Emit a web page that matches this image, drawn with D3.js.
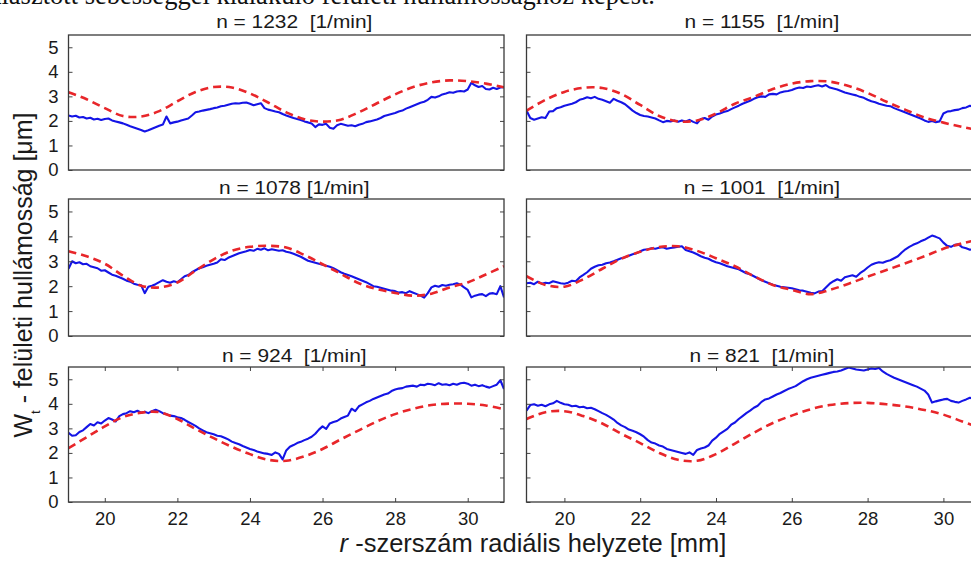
<!DOCTYPE html>
<html>
<head>
<meta charset="utf-8">
<script src="https://cdn.jsdelivr.net/npm/d3@7"></script>
<style>
  body { margin: 0; background: #fff; overflow: hidden; }
  svg { display: block; }
  text { font-family: "Liberation Sans", Arial, sans-serif; fill: #1a1a1a; white-space: pre; }
</style>
</head>
<body>
<svg id="chart" width="971" height="563"></svg>
<script>
// radial position grid of the measured (blue) traces, 19..31 mm every 0.1 mm
var rBlue = d3.range(0, 121).map(function(i) { return 19 + i / 10; });
// grid of the model (red dashed) curves, every 0.5 mm
var rRed = d3.range(0, 25).map(function(i) { return 19 + i / 2; });

var titles = ['n = 1232  [1/min]', 'n = 1155  [1/min]', 'n = 1078 [1/min]',
              'n = 1001  [1/min]', 'n = 924  [1/min]', 'n = 821  [1/min]'];

var yTicks = [0, 1, 2, 3, 4, 5];
var xTicks = [20, 22, 24, 26, 28, 30];

// measured surface waviness Wt [um]
var blue1232 = [2.22,2.18,2.21,2.14,2.16,2.10,2.13,2.06,2.09,2.04,2.08,2.10,2.02,1.98,1.94,1.90,1.84,1.78,1.73,1.68,
  1.63,1.57,1.62,1.68,1.74,1.80,1.85,2.18,1.90,1.94,1.97,2.02,2.06,2.10,2.22,2.35,2.38,2.42,2.45,2.48,
  2.52,2.55,2.60,2.62,2.66,2.70,2.72,2.71,2.74,2.75,2.70,2.64,2.68,2.72,2.52,2.46,2.42,2.38,2.35,2.28,
  2.22,2.17,2.12,2.08,2.04,1.98,1.94,1.89,1.75,1.86,1.84,1.88,1.72,1.68,1.82,1.88,1.84,1.80,1.82,1.78,
  1.84,1.88,1.95,1.98,2.02,2.06,2.12,2.20,2.24,2.28,2.32,2.38,2.42,2.50,2.56,2.62,2.68,2.74,2.78,2.86,
  2.98,2.95,3.00,3.08,3.12,3.17,3.15,3.20,3.22,3.20,3.28,3.55,3.45,3.38,3.42,3.30,3.28,3.35,3.30,3.36,3.37];
var blue1155 = [2.42,2.12,2.05,2.10,2.15,2.12,2.38,2.40,2.52,2.56,2.62,2.66,2.70,2.76,2.86,2.90,2.96,2.92,2.98,2.90,
  2.86,2.80,2.74,2.90,2.82,2.76,2.68,2.55,2.42,2.32,2.24,2.20,2.18,2.14,2.10,2.02,1.95,2.00,1.98,2.02,
  1.97,2.02,1.98,2.04,1.96,1.90,2.08,2.12,2.05,2.18,2.26,2.30,2.36,2.40,2.48,2.55,2.62,2.70,2.76,2.82,
  2.90,2.96,3.00,2.98,3.08,3.10,3.08,3.16,3.20,3.22,3.26,3.32,3.36,3.34,3.40,3.38,3.42,3.45,3.40,3.46,
  3.36,3.32,3.28,3.22,3.16,3.12,3.08,3.04,2.98,2.94,2.86,2.80,2.76,2.70,2.66,2.62,2.60,2.52,2.46,2.40,
  2.34,2.28,2.22,2.16,2.10,2.02,1.96,2.00,1.95,1.98,2.30,2.38,2.40,2.44,2.46,2.52,2.55,2.62,2.56,2.52,2.50];
var blue1078 = [2.70,3.00,2.92,2.96,2.88,2.90,2.80,2.76,2.72,2.62,2.64,2.55,2.46,2.42,2.36,2.30,2.22,2.18,2.10,2.06,
  2.04,1.72,1.98,2.02,2.08,2.16,2.24,2.18,2.14,2.20,2.16,2.28,2.40,2.45,2.56,2.64,2.72,2.76,2.82,2.86,
  2.90,2.95,3.08,3.05,3.14,3.20,3.26,3.32,3.36,3.40,3.45,3.42,3.50,3.46,3.52,3.44,3.48,3.45,3.42,3.44,
  3.38,3.35,3.30,3.24,3.18,3.10,3.02,2.98,2.94,2.90,2.86,2.82,2.78,2.72,2.64,2.56,2.50,2.45,2.40,2.34,
  2.28,2.22,2.16,2.08,2.00,1.98,1.94,1.90,1.86,1.82,1.80,1.74,1.76,1.72,1.80,1.74,1.68,1.62,1.54,1.72,
  1.95,2.02,1.98,2.05,2.02,2.06,2.08,2.12,2.06,1.95,1.85,1.55,1.62,1.66,1.68,1.60,1.70,1.72,1.68,2.00,1.55];
var blue1001 = [2.12,2.14,2.08,2.18,2.10,2.14,2.12,2.20,2.16,2.12,2.10,2.14,2.22,2.20,2.35,2.45,2.56,2.70,2.78,2.84,
  2.86,2.92,2.95,3.00,3.06,3.12,3.16,3.22,3.28,3.32,3.40,3.46,3.48,3.52,3.50,3.54,3.56,3.50,3.53,3.55,
  3.58,3.60,3.45,3.40,3.35,3.28,3.20,3.14,3.10,3.02,2.96,2.92,2.86,2.80,2.76,2.72,2.68,2.60,2.52,2.48,
  2.40,2.32,2.24,2.18,2.12,2.06,2.02,1.98,1.96,1.94,1.92,1.88,1.84,1.82,1.78,1.74,1.71,1.78,1.80,1.95,
  2.10,2.20,2.28,2.22,2.36,2.40,2.44,2.38,2.52,2.62,2.75,2.86,2.92,2.96,2.94,3.00,3.04,3.12,3.20,3.35,
  3.48,3.58,3.66,3.72,3.80,3.86,3.95,4.03,3.98,3.92,3.75,3.62,3.58,3.66,3.68,3.56,3.52,3.46,3.50,3.48,3.45];
var blue924 = [2.82,2.70,2.72,2.85,2.92,3.05,3.18,3.12,3.25,3.20,3.32,3.42,3.36,3.28,3.50,3.58,3.62,3.70,3.66,3.72,
  3.64,3.68,3.62,3.70,3.76,3.70,3.62,3.58,3.52,3.50,3.45,3.42,3.35,3.26,3.18,3.10,3.00,2.92,2.84,2.80,
  2.76,2.70,2.68,2.62,2.55,2.46,2.40,2.35,2.28,2.22,2.16,2.12,2.06,2.02,1.98,1.96,1.92,2.02,1.96,1.74,
  2.10,2.25,2.32,2.40,2.45,2.52,2.58,2.66,2.78,2.95,3.08,2.98,3.20,3.26,3.30,3.40,3.46,3.52,3.80,3.70,
  3.90,3.98,4.06,4.12,4.20,4.26,4.32,4.38,4.42,4.52,4.58,4.62,4.64,4.70,4.72,4.74,4.70,4.78,4.76,4.82,
  4.80,4.76,4.84,4.78,4.80,4.76,4.82,4.78,4.84,4.86,4.82,4.74,4.78,4.72,4.76,4.70,4.66,4.72,4.78,4.96,4.60];
var blue821 = [3.72,3.95,3.98,3.92,3.96,3.90,3.98,4.02,4.12,4.04,3.98,3.96,3.90,3.92,3.86,3.88,3.82,3.84,3.78,3.70,
  3.62,3.55,3.46,3.36,3.22,3.12,3.05,2.95,2.90,2.84,2.76,2.66,2.52,2.42,2.38,2.30,2.26,2.16,2.12,2.08,
  2.04,2.00,1.96,2.02,1.92,2.12,2.18,2.22,2.30,2.50,2.62,2.78,2.88,2.98,3.15,3.24,3.38,3.50,3.62,3.72,
  3.84,3.92,4.08,4.18,4.22,4.30,4.38,4.44,4.52,4.60,4.66,4.72,4.82,4.92,5.00,5.06,5.10,5.14,5.18,5.22,
  5.26,5.30,5.32,5.36,5.42,5.48,5.44,5.40,5.38,5.36,5.40,5.44,5.42,5.46,5.32,5.22,5.14,5.06,5.00,4.94,
  4.88,4.82,4.76,4.70,4.62,4.54,4.38,4.05,4.10,4.14,4.18,4.20,4.12,4.08,4.05,4.12,4.18,4.25,4.20,4.18,4.15];

// model curves Wt [um]
var red1232 = [3.17,2.88,2.52,2.20,2.18,2.40,2.80,3.18,3.38,3.36,3.12,2.75,2.35,2.07,1.97,2.05,2.35,2.72,3.08,3.38,3.57,3.65,3.62,3.52,3.37];
var red1155 = [2.42,2.86,3.18,3.35,3.34,3.10,2.65,2.20,1.98,2.02,2.30,2.70,2.98,3.30,3.52,3.62,3.60,3.42,3.14,2.78,2.45,2.14,1.93,1.75,1.60];
var red1078 = [3.40,3.20,2.90,2.42,2.02,1.95,2.15,2.62,3.08,3.42,3.58,3.62,3.55,3.25,2.88,2.50,2.12,1.88,1.73,1.62,1.70,1.95,2.15,2.47,2.80];
var red1001 = [2.40,2.05,1.98,2.28,2.70,3.10,3.38,3.57,3.60,3.42,3.12,2.80,2.40,2.05,1.85,1.68,1.85,2.10,2.38,2.65,2.92,3.20,3.50,3.72,3.90];
var red924 = [2.19,2.64,3.08,3.46,3.64,3.66,3.38,2.98,2.60,2.25,1.95,1.72,1.68,1.86,2.16,2.55,2.92,3.28,3.58,3.80,3.95,4.01,4.00,3.93,3.78];
var red821 = [3.38,3.66,3.70,3.50,3.20,2.78,2.40,2.00,1.72,1.68,1.95,2.38,2.82,3.22,3.52,3.78,3.95,4.03,4.04,3.98,3.89,3.75,3.56,3.28,3.00];

var blues = [blue1232, blue1155, blue1078, blue1001, blue924, blue821];
var reds = [red1232, red1155, red1078, red1001, red924, red821];

var svg = d3.select('#chart');

// last line of the page text above the figure, mostly cut off
svg.append('text')
  .attr('x', 655).attr('y', 4)
  .attr('text-anchor', 'end')
  .style('font-family', '"Liberation Serif", "Times New Roman", serif')
  .style('font-size', '26.5px')
  .style('fill', '#111')
  .text('választott sebességgel kialakuló felületi hullámossághoz képest.');

var cols = [{x: 68.5, w: 435.5}, {x: 526.5, w: 454.8}];
var rows = [{y: 35, h: 135, t: 28}, {y: 199, h: 137, t: 194}, {y: 367, h: 135, t: 362}];

titles.forEach(function(title, i) {
  var c = cols[i % 2], r = rows[Math.floor(i / 2)];
  var x = d3.scaleLinear().domain([19, 31]).range([0, c.w]);
  var y = d3.scaleLinear().domain([0, 5.5]).range([r.h, 0]);

  var g = svg.append('g').attr('transform', 'translate(' + c.x + ',' + r.y + ')');

  g.append('clipPath').attr('id', 'clip' + i)
    .append('rect').attr('width', c.w).attr('height', r.h);

  var plot = g.append('g').attr('clip-path', 'url(#clip' + i + ')');

  var blueLine = d3.line()
    .x(function(d, k) { return x(rBlue[k]); })
    .y(function(d) { return y(d); });
  var redLine = d3.line()
    .x(function(d, k) { return x(rRed[k]); })
    .y(function(d) { return y(d); })
    .curve(d3.curveCatmullRom);

  plot.append('path')
    .attr('d', blueLine(blues[i]))
    .style('fill', 'none')
    .style('stroke', '#1414e6')
    .style('stroke-width', 2.1)
    .style('stroke-linejoin', 'round');

  plot.append('path')
    .attr('d', redLine(reds[i]))
    .style('fill', 'none')
    .style('stroke', '#e8262a')
    .style('stroke-width', 2.6)
    .style('stroke-dasharray', '8,5');

  // axes, ticks pointing inward like matlab
  var left = d3.axisLeft(y).tickValues(yTicks).tickSize(-4).tickPadding(10).tickFormat(d3.format('d'));
  if (i % 2 == 1) left.tickFormat('');
  g.append('g').call(left);
  g.append('g').attr('transform', 'translate(' + c.w + ',0)')
    .call(d3.axisRight(y).tickValues(yTicks).tickSize(-4).tickFormat(''));

  if (r.y > 300) {
    g.append('g').attr('transform', 'translate(0,' + r.h + ')')
      .call(d3.axisBottom(x).tickValues(xTicks).tickSize(-4).tickPadding(10));
    g.append('g')
      .call(d3.axisTop(x).tickValues(xTicks).tickSize(-4).tickFormat(''));
  }

  g.selectAll('.domain').remove();
  g.selectAll('.tick line').style('stroke', '#444');
  g.selectAll('.tick text')
    .style('font-family', '"Liberation Sans", Arial, sans-serif')
    .style('font-size', '18.5px')
    .style('fill', '#1a1a1a');

  g.append('rect')
    .attr('width', c.w).attr('height', r.h)
    .style('fill', 'none')
    .style('stroke', '#3a3a3a')
    .style('stroke-width', 1.3);

  svg.append('text')
    .attr('transform', 'translate(' + (c.x + c.w / 2 + 8) + ',' + r.t + ') scale(1.1,1)')
    .attr('text-anchor', 'middle')
    .style('font-size', '19px')
    .text(title);
});

// axis labels
var yl = svg.append('text')
  .attr('transform', 'translate(32,275) rotate(-90)')
  .attr('text-anchor', 'middle')
  .style('font-size', '25px');
yl.append('tspan').text('W');
yl.append('tspan').attr('baseline-shift', 'sub').style('font-size', '13px').text('t');
yl.append('tspan').text(' - felületi hullámosság [μm]');

var xl = svg.append('text')
  .attr('x', 533).attr('y', 552)
  .attr('text-anchor', 'middle')
  .style('font-size', '25.5px');
xl.append('tspan').style('font-style', 'italic').text('r');
xl.append('tspan').text(' -szerszám radiális helyzete [mm]');
</script>
</body>
</html>
